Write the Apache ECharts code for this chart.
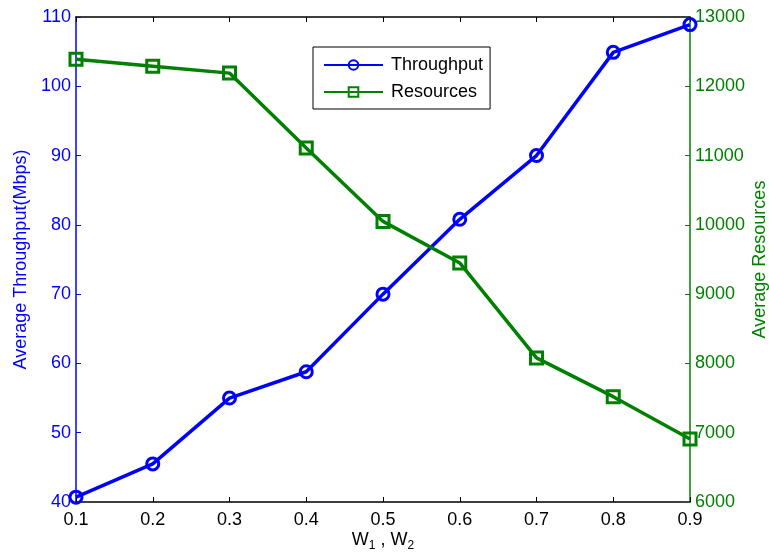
<!DOCTYPE html>
<html><head><meta charset="utf-8">
<script src="https://cdn.jsdelivr.net/npm/echarts@6/dist/echarts.min.js"></script>
<style>html,body{margin:0;padding:0;background:#fff}#c{width:769px;height:557px}</style>
</head><body><div id="c"></div>
<script>
const categories = ['0.1','0.2','0.3','0.4','0.5','0.6','0.7','0.8','0.9'];
const throughput = [40.7, 45.5, 55.0, 58.8, 70.0, 80.8, 90.0, 104.9, 108.9];
const resources = [12390, 12290, 12190, 11110, 10050, 9450, 8080, 7520, 6910];
const leftTicks = {min: 40, max: 110, interval: 10};
const rightTicks = {min: 6000, max: 13000, interval: 1000};

const FONT = 'Liberation Sans, Arial, Helvetica, sans-serif';
const BLUE = '#0000ff', GREEN = '#008000';
const chart = echarts.init(document.getElementById('c'));
chart.setOption({
  animation: false,
  backgroundColor: '#fff',
  textStyle: {fontFamily: FONT},
  grid: {left: 76, right: 79, top: 17, bottom: 55, containLabel: false, outerBoundsMode: 'none'},
  legend: {
    left: 313, top: 47, orient: 'vertical',
    borderColor: '#000', borderWidth: 1, backgroundColor: '#fff',
    padding: [9, 7, 8, 10], itemGap: 9, itemWidth: 59, itemHeight: 12,
    textStyle: {fontSize: 18, color: '#000', fontFamily: FONT, padding: [0, 0, 0, 3]},
    data: ['Throughput', 'Resources']
  },
  xAxis: [{
    type: 'category', data: categories, boundaryGap: false,
    axisLine: {lineStyle: {color: '#000', width: 1.5}},
    axisTick: {inside: true, length: 5, lineStyle: {color: '#000'}, alignWithLabel: true},
    axisLabel: {fontSize: 18, color: '#000', margin: 9, fontFamily: FONT},
    splitLine: {show: false},
    name: 'W{s|1} , W{s|2}', nameLocation: 'middle', nameGap: 26, nameMoveOverlap: false,
    nameTextStyle: {fontSize: 18, color: '#000', fontFamily: FONT,
      rich: {s: {fontSize: 12, verticalAlign: 'bottom', padding: [12, 0, 0, 0], fontFamily: FONT, color: '#000'}}}
  }, {
    type: 'category', data: categories, boundaryGap: false, position: 'top',
    axisLine: {lineStyle: {color: '#000', width: 1.5}},
    axisTick: {inside: true, length: 5, lineStyle: {color: '#000'}},
    axisLabel: {show: false}, splitLine: {show: false}
  }],
  yAxis: [{
    type: 'value', position: 'left', min: leftTicks.min, max: leftTicks.max, interval: leftTicks.interval,
    axisLine: {show: true, lineStyle: {color: BLUE, width: 1.5}},
    axisTick: {show: true, inside: true, length: 5, lineStyle: {color: BLUE}},
    axisLabel: {fontSize: 18, color: BLUE, margin: 5, fontFamily: FONT},
    splitLine: {show: false},
    name: 'Average Throughput(Mbps)', nameLocation: 'middle', nameGap: 46, nameMoveOverlap: false,
    nameTextStyle: {fontSize: 18, color: BLUE, fontFamily: FONT}
  }, {
    type: 'value', position: 'right', min: rightTicks.min, max: rightTicks.max, interval: rightTicks.interval,
    axisLine: {show: true, lineStyle: {color: GREEN, width: 1.5}},
    axisTick: {show: true, inside: true, length: 5, lineStyle: {color: GREEN}},
    axisLabel: {fontSize: 18, color: GREEN, margin: 5, fontFamily: FONT, formatter: v => String(v)},
    splitLine: {show: false},
    name: 'Average Resources', nameLocation: 'middle', nameGap: 61, nameMoveOverlap: false,
    nameTextStyle: {fontSize: 18, color: GREEN, fontFamily: FONT}
  }],
  series: [{
    name: 'Throughput', type: 'line', xAxisIndex: 0, yAxisIndex: 0, data: throughput,
    symbol: 'circle', symbolSize: 12,
    lineStyle: {color: BLUE, width: 3.5},
    itemStyle: {color: 'transparent', borderColor: BLUE, borderWidth: 3},
    z: 3
  }, {
    name: 'Resources', type: 'line', xAxisIndex: 0, yAxisIndex: 1, data: resources,
    symbol: 'rect', symbolSize: 12,
    lineStyle: {color: GREEN, width: 3.5},
    itemStyle: {color: 'transparent', borderColor: GREEN, borderWidth: 3},
    z: 4
  }]
});
</script></body></html>
